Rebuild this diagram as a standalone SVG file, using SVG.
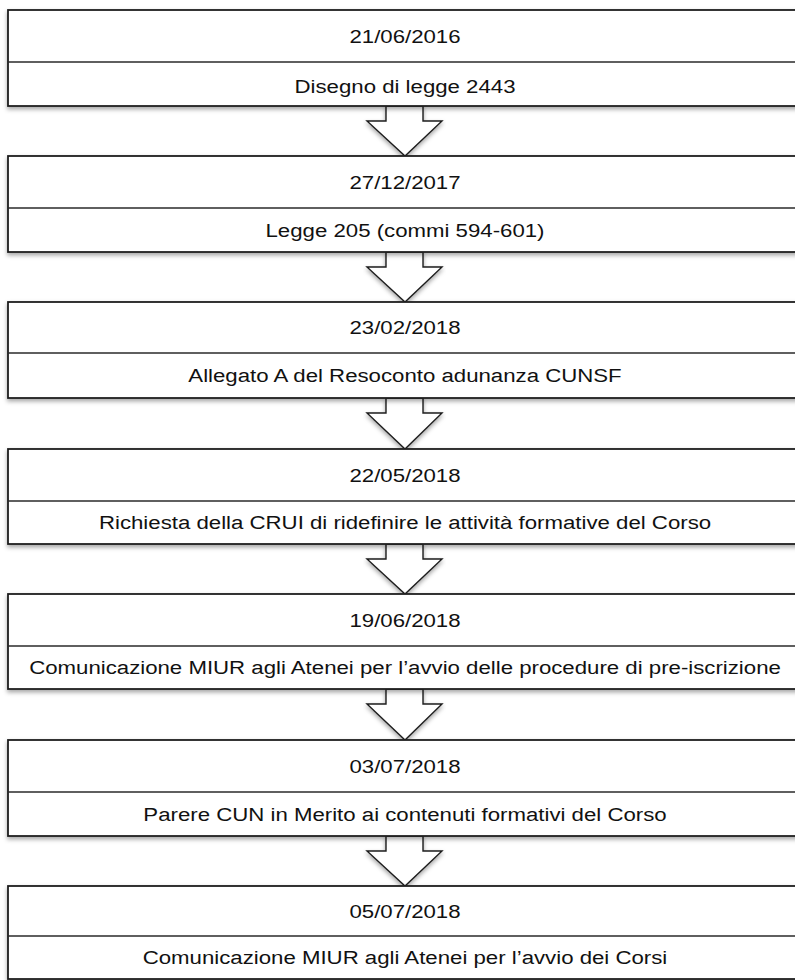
<svg xmlns="http://www.w3.org/2000/svg" width="795" height="980" viewBox="0 0 795 980">
<defs>
<filter id="sh" x="-5%" y="-20%" width="110%" height="150%">
<feDropShadow dx="0" dy="2.5" stdDeviation="2" flood-color="#000" flood-opacity="0.35"/>
</filter>
<style>
.box{fill:#fff;stroke:#1e1e1e;stroke-width:1.8;filter:url(#sh)}
.div{stroke:#2a2a2a;stroke-width:1.4}
.arr{fill:#fff;stroke:#1e1e1e;stroke-width:1.4;stroke-linejoin:miter;filter:url(#sh)}
text{font-family:"Liberation Sans",Arial,sans-serif;font-size:19px;fill:#111;text-anchor:middle}
</style>
</defs>
<rect width="795" height="980" fill="#fff"/>
<g id="connectors">
<path class="arr" d="M386,106 H423 V121 H442 L405,156 L367,121 H386 Z"/>
<path class="arr" d="M386,252 H423 V267 H442 L405,302 L367,267 H386 Z"/>
<path class="arr" d="M386,398 H423 V413 H442 L405,449 L367,413 H386 Z"/>
<path class="arr" d="M386,544 H423 V559 H442 L405,594 L367,559 H386 Z"/>
<path class="arr" d="M386,689 H423 V704 H442 L405,740 L367,704 H386 Z"/>
<path class="arr" d="M386,836 H423 V851 H442 L405,886 L367,851 H386 Z"/>
</g>
<g id="n1"><rect class="box" x="8" y="10" width="794" height="96"/><line class="div" x1="8" y1="62" x2="802" y2="62"/>
<g transform="translate(405,0) scale(1.17,1)"><text x="0" y="43">21/06/2016</text><text x="0" y="93">Disegno di legge 2443</text></g></g>
<g id="n2"><rect class="box" x="8" y="156" width="794" height="96"/><line class="div" x1="8" y1="208" x2="802" y2="208"/>
<g transform="translate(405,0) scale(1.17,1)"><text x="0" y="189">27/12/2017</text><text x="0" y="237">Legge 205 (commi 594-601)</text></g></g>
<g id="n3"><rect class="box" x="8" y="302" width="794" height="96"/><line class="div" x1="8" y1="353" x2="802" y2="353"/>
<g transform="translate(405,0) scale(1.17,1)"><text x="0" y="334">23/02/2018</text><text x="0" y="382">Allegato A del Resoconto adunanza CUNSF</text></g></g>
<g id="n4"><rect class="box" x="8" y="449" width="794" height="95"/><line class="div" x1="8" y1="501" x2="802" y2="501"/>
<g transform="translate(405,0) scale(1.17,1)"><text x="0" y="482">22/05/2018</text><text x="0" y="529">Richiesta della CRUI di ridefinire le attività formative del Corso</text></g></g>
<g id="n5"><rect class="box" x="8" y="594" width="794" height="95"/><line class="div" x1="8" y1="646" x2="802" y2="646"/>
<g transform="translate(405,0) scale(1.17,1)"><text x="0" y="627">19/06/2018</text><text x="0" y="674">Comunicazione MIUR agli Atenei per l’avvio delle procedure di pre-iscrizione</text></g></g>
<g id="n6"><rect class="box" x="8" y="740" width="794" height="96"/><line class="div" x1="8" y1="792" x2="802" y2="792"/>
<g transform="translate(405,0) scale(1.17,1)"><text x="0" y="773">03/07/2018</text><text x="0" y="821">Parere CUN in Merito ai contenuti formativi del Corso</text></g></g>
<g id="n7"><rect class="box" x="8" y="886" width="794" height="93"/><line class="div" x1="8" y1="936" x2="802" y2="936"/>
<g transform="translate(405,0) scale(1.17,1)"><text x="0" y="918">05/07/2018</text><text x="0" y="964">Comunicazione MIUR agli Atenei per l’avvio dei Corsi</text></g></g>
</svg>
